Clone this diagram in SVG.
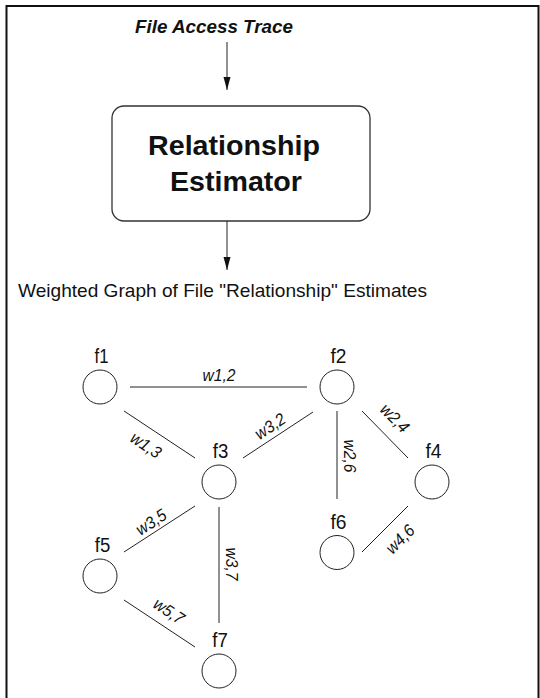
<svg xmlns="http://www.w3.org/2000/svg" width="540" height="698" viewBox="0 0 540 698">
<defs>
<style>
.frame{fill:none;stroke:#111;stroke-width:2}
.edge{stroke:#222;stroke-width:1;fill:none}
.node{fill:#fff;stroke:#222;stroke-width:1}
.nl{font-family:"Liberation Sans",Arial,sans-serif;font-size:20px;fill:#111;text-anchor:middle}
.el{font-family:"Liberation Sans",Arial,sans-serif;font-size:17px;font-style:italic;fill:#111;text-anchor:middle}
.title{font-family:"Liberation Sans",Arial,sans-serif;font-size:19px;font-weight:bold;font-style:italic;fill:#111;text-anchor:middle}
.boxt{font-family:"Liberation Sans",Arial,sans-serif;font-size:28px;font-weight:bold;fill:#111;text-anchor:middle}
.sub{font-family:"Liberation Sans",Arial,sans-serif;font-size:19px;fill:#111}
</style>
<marker id="ah" markerWidth="14" markerHeight="8" refX="13" refY="3.5" orient="auto" markerUnits="userSpaceOnUse">
<path d="M0,0 L13,3.5 L0,7 Z" fill="#111"/>
</marker>
</defs>
<rect width="540" height="698" fill="#fff"/>
<path class="frame" d="M6.5,700 L6.5,6 L538.5,6 L538.5,700"/>

<g id="title">
<text class="title" x="214" y="33" textLength="158" lengthAdjust="spacingAndGlyphs">File Access Trace</text>
</g>

<g id="estimator">
<rect x="112" y="106" width="258" height="115" rx="12" ry="12" fill="#fff" stroke="#333" stroke-width="1.3"/>
<text class="boxt" x="234" y="155" textLength="172" lengthAdjust="spacingAndGlyphs">Relationship</text>
<text class="boxt" x="236" y="191" textLength="132" lengthAdjust="spacingAndGlyphs">Estimator</text>
</g>

<g id="graph-label">
<text class="sub" x="18" y="297" textLength="409" lengthAdjust="spacingAndGlyphs">Weighted Graph of File "Relationship" Estimates</text>
</g>

<g id="connectors">
<line class="edge" x1="227" y1="42" x2="227" y2="90" marker-end="url(#ah)"/>
<line class="edge" x1="227" y1="221" x2="227" y2="270" marker-end="url(#ah)"/>
<line class="edge" x1="130" y1="387" x2="307" y2="387"/>
<line class="edge" x1="124" y1="411" x2="195" y2="458"/>
<line class="edge" x1="243" y1="458" x2="313" y2="412"/>
<line class="edge" x1="337" y1="411" x2="337" y2="499"/>
<line class="edge" x1="362" y1="411" x2="408" y2="458"/>
<line class="edge" x1="362" y1="552" x2="408" y2="506"/>
<line class="edge" x1="124" y1="552" x2="195" y2="506"/>
<line class="edge" x1="219" y1="507" x2="219" y2="623"/>
<line class="edge" x1="124" y1="600" x2="195" y2="647"/>
<text class="el" x="219" y="381" textLength="33" lengthAdjust="spacingAndGlyphs">w1,2</text>
<text class="el" transform="translate(146,445) rotate(33.6)" x="0" y="6" textLength="33" lengthAdjust="spacingAndGlyphs">w1,3</text>
<text class="el" transform="translate(270,426) rotate(-33.7)" x="0" y="6" textLength="33" lengthAdjust="spacingAndGlyphs">w3,2</text>
<text class="el" transform="translate(350,456) rotate(90)" x="0" y="6" textLength="33" lengthAdjust="spacingAndGlyphs">w2,6</text>
<text class="el" transform="translate(395,418) rotate(45)" x="0" y="6" textLength="33" lengthAdjust="spacingAndGlyphs">w2,4</text>
<text class="el" transform="translate(400,539) rotate(-45)" x="0" y="6" textLength="33" lengthAdjust="spacingAndGlyphs">w4,6</text>
<text class="el" transform="translate(151,522) rotate(-33.4)" x="0" y="6" textLength="33" lengthAdjust="spacingAndGlyphs">w3,5</text>
<text class="el" transform="translate(232,564) rotate(90)" x="0" y="6" textLength="33" lengthAdjust="spacingAndGlyphs">w3,7</text>
<text class="el" transform="translate(169,611) rotate(33.7)" x="0" y="6" textLength="33" lengthAdjust="spacingAndGlyphs">w5,7</text>
</g>

<g id="f1"><circle class="node" cx="100" cy="387" r="17"/><text class="nl" x="101.5" y="363" textLength="14" lengthAdjust="spacingAndGlyphs">f1</text></g>
<g id="f2"><circle class="node" cx="337" cy="387" r="17"/><text class="nl" x="338.5" y="363" textLength="16" lengthAdjust="spacingAndGlyphs">f2</text></g>
<g id="f3"><circle class="node" cx="219" cy="482" r="17"/><text class="nl" x="220.5" y="457.5" textLength="15.5" lengthAdjust="spacingAndGlyphs">f3</text></g>
<g id="f4"><circle class="node" cx="432" cy="482" r="17"/><text class="nl" x="433.5" y="457.5" textLength="16" lengthAdjust="spacingAndGlyphs">f4</text></g>
<g id="f5"><circle class="node" cx="100" cy="576" r="17"/><text class="nl" x="102.5" y="551.5" textLength="15.5" lengthAdjust="spacingAndGlyphs">f5</text></g>
<g id="f6"><circle class="node" cx="337" cy="552.5" r="17"/><text class="nl" x="338.5" y="529" textLength="16" lengthAdjust="spacingAndGlyphs">f6</text></g>
<g id="f7"><circle class="node" cx="219" cy="671" r="17"/><text class="nl" x="220" y="646.5" textLength="15.5" lengthAdjust="spacingAndGlyphs">f7</text></g>
</svg>
